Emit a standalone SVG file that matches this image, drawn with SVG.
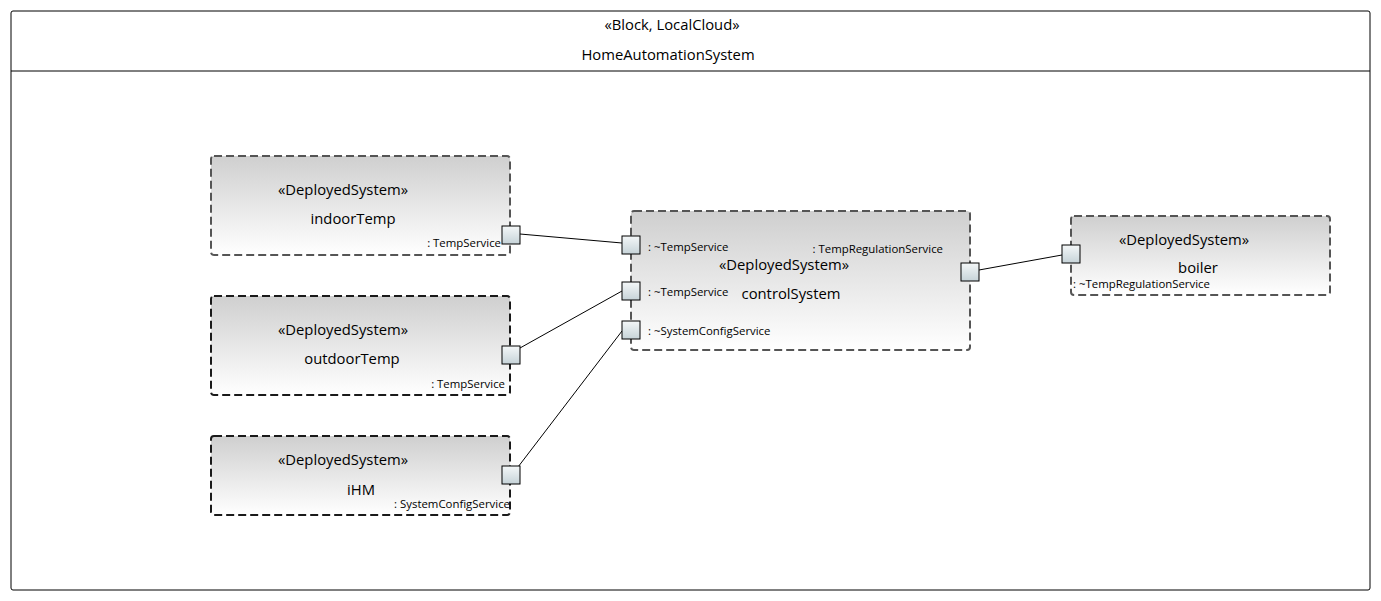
<svg xmlns="http://www.w3.org/2000/svg" width="1381" height="601" viewBox="0 0 1381 601">
<defs>
<linearGradient id="nodeGrad" x1="0" y1="0" x2="0" y2="1">
<stop offset="0" stop-color="#cfcfcf"/>
<stop offset="1" stop-color="#ffffff"/>
</linearGradient>
<linearGradient id="portGrad" x1="0" y1="0" x2="0" y2="1">
<stop offset="0" stop-color="#f4f7f8"/>
<stop offset="1" stop-color="#c6d3d8"/>
</linearGradient>
</defs>
<style>
text{font-family:"Open Sans","Noto Sans","DejaVu Sans",sans-serif;fill:#000}
.big{font-size:14.8px}
.small{font-size:11.4px}
.title{font-size:14.8px}
.node{fill:url(#nodeGrad);stroke-width:2;stroke-dasharray:8 4}
.gray{stroke:#555}
.dark{stroke:#1a1a1a}
.port{fill:url(#portGrad);stroke:#000;stroke-width:1}
.conn{stroke:#000;stroke-width:1;fill:none}
</style>
<rect width="1381" height="601" fill="#fff"/>
<g id="frame">
<rect x="11" y="11" width="1359" height="579" rx="2" fill="#fff" stroke="#000" stroke-width="1"/>
<line x1="11" y1="71" x2="1370" y2="71" stroke="#000" stroke-width="1"/>
<text class="title" x="672" y="30" text-anchor="middle">«Block, LocalCloud»</text>
<text class="title" x="668" y="60" text-anchor="middle">HomeAutomationSystem</text>
</g>
<g id="connectors">
<line class="conn" x1="520" y1="234" x2="622" y2="243"/>
<line class="conn" x1="520" y1="348" x2="622" y2="291"/>
<line class="conn" x1="518" y1="467" x2="622" y2="331"/>
<line class="conn" x1="979" y1="270" x2="1062" y2="255"/>
</g>
<g id="indoorTemp">
<rect class="node gray" x="211" y="156" width="299" height="99" rx="3"/>
<text class="big" x="343" y="195" text-anchor="middle">«DeployedSystem»</text>
<text class="big" x="353" y="224" text-anchor="middle">indoorTemp</text>
<text class="small" x="501" y="247" text-anchor="end">: TempService</text>
<rect class="port" x="502" y="226" width="18" height="18"/>
</g>
<g id="outdoorTemp">
<rect class="node dark" x="211" y="296" width="299" height="99" rx="3"/>
<text class="big" x="343" y="335" text-anchor="middle">«DeployedSystem»</text>
<text class="big" x="352" y="364" text-anchor="middle">outdoorTemp</text>
<text class="small" x="505" y="388" text-anchor="end">: TempService</text>
<rect class="port" x="502" y="346" width="18" height="18"/>
</g>
<g id="iHM">
<rect class="node dark" x="211" y="436" width="299" height="79" rx="3"/>
<text class="big" x="343" y="465" text-anchor="middle">«DeployedSystem»</text>
<text class="big" x="361" y="495" text-anchor="middle">iHM</text>
<text class="small" x="510" y="508" text-anchor="end">: SystemConfigService</text>
<rect class="port" x="502" y="466" width="18" height="18"/>
</g>
<g id="controlSystem">
<rect class="node gray" x="631" y="211" width="339" height="139" rx="3"/>
<text class="small" x="648" y="251">: ~TempService</text>
<text class="small" x="943" y="253" text-anchor="end">: TempRegulationService</text>
<text class="big" x="784" y="270" text-anchor="middle">«DeployedSystem»</text>
<text class="small" x="648" y="296">: ~TempService</text>
<text class="big" x="791" y="299" text-anchor="middle">controlSystem</text>
<text class="small" x="648" y="335">: ~SystemConfigService</text>
<rect class="port" x="622" y="236" width="18" height="18"/>
<rect class="port" x="622" y="282" width="18" height="18"/>
<rect class="port" x="622" y="321" width="18" height="18"/>
<rect class="port" x="961" y="263" width="18" height="18"/>
</g>
<g id="boiler">
<rect class="node gray" x="1071" y="216" width="259" height="79" rx="3"/>
<text class="big" x="1184" y="245" text-anchor="middle">«DeployedSystem»</text>
<text class="big" x="1198" y="273" text-anchor="middle">boiler</text>
<text class="small" x="1073" y="288">: ~TempRegulationService</text>
<rect class="port" x="1062" y="245" width="18" height="18"/>
</g>
</svg>
